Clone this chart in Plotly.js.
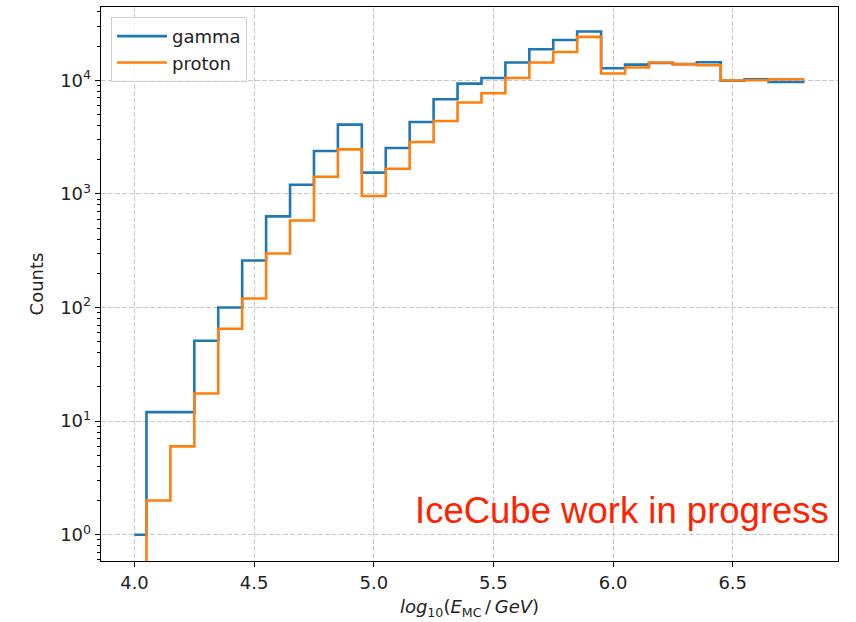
<!DOCTYPE html>
<html>
<head>
<meta charset="utf-8">
<script src="https://cdn.plot.ly/plotly-3.0.1.min.js"></script>
<style>html,body{margin:0;padding:0;background:#fff;}#chart{width:856px;height:622px;}</style>
</head>
<body>
<div id="chart"></div>
<script>
// bin centres log10(E_MC/GeV)
const energy = [4.0,4.1,4.2,4.3,4.4,4.5,4.6,4.7,4.8,4.9,5.0,5.1,5.2,5.3,5.4,5.5,5.6,5.7,5.8,5.9,6.0,6.1,6.2,6.3,6.4,6.5,6.6,6.7,6.8];
const gammaCounts = [1,12,12,51,100,259,634,1205,2383,4074,1538,2535,4293,6800,9350,10480,14320,18750,22650,26850,12760,13740,14200,13900,14400,9900,10200,9650,9650];
const protonCounts = [0,2,6,17.5,65,120,299,584,1417,2466,957,1667,2860,4378,6370,7680,10480,14320,17750,24080,11460,12940,14350,13800,13550,9950,10000,10200,10200];
const xTickVals = [4.0,4.5,5.0,5.5,6.0,6.5];
const xTickText = ['4.0','4.5','5.0','5.5','6.0','6.5'];
const yTickVals = [1,10,100,1000,10000];
const yTickText = ['10<sup>0</sup>','10<sup>1</sup>','10<sup>2</sup>','10<sup>3</sup>','10<sup>4</sup>'];

// log-scale: non-positive counts are clipped far below the axis (as matplotlib does)
const clip = v => (v > 0 ? v : 1e-3);

const minorVals = [];
for (let d = -1; d <= 4; d++) for (let m = 2; m <= 9; m++) minorVals.push(m * Math.pow(10, d));

const font = {family: 'DejaVu Sans, sans-serif', size: 18, color: '#222'};

const traces = [
  {x: energy, y: gammaCounts.map(clip), name: 'gamma', type: 'scatter', mode: 'lines',
   line: {shape: 'hvh', color: '#1f77b4', width: 2.6}},
  {x: energy, y: protonCounts.map(clip), name: 'proton', type: 'scatter', mode: 'lines',
   line: {shape: 'hvh', color: '#ff7f0e', width: 2.6}}
];

const layout = {
  width: 856, height: 622,
  margin: {l: 101, r: 18, t: 7, b: 61},
  paper_bgcolor: '#fff', plot_bgcolor: '#fff',
  font: font,
  showlegend: true,
  legend: {x: 0.0136, y: 0.982, xanchor: 'left', yanchor: 'top', bgcolor: 'rgba(255,255,255,0.8)',
           bordercolor: '#d0d0d0', borderwidth: 1, itemwidth: 50,
           font: {family: 'DejaVu Sans, sans-serif', size: 18, color: '#222'}},
  xaxis: {
    range: [3.86, 6.94], tickmode: 'array', tickvals: xTickVals, ticktext: xTickText,
    showline: true, linecolor: '#000', linewidth: 1.3, mirror: true,
    ticks: 'outside', ticklen: 5, tickcolor: '#000', zeroline: false,
    showgrid: true, gridcolor: '#c8c8c8', griddash: '5px,2px', gridwidth: 1,
    tickfont: font,
    title: {text: '<i>log</i><sub>10</sub>(<i>E</i><sub>MC</sub>\u2009/\u2009<i>GeV</i>)', font: font, standoff: 8}
  },
  yaxis: {
    type: 'log', range: [-0.231, 4.645], tickmode: 'array', tickvals: yTickVals, ticktext: yTickText,
    showline: true, linecolor: '#000', linewidth: 1.3, mirror: true,
    ticks: 'outside', ticklen: 5, tickcolor: '#000', zeroline: false,
    showgrid: true, gridcolor: '#c8c8c8', griddash: '5px,2px', gridwidth: 1,
    minor: {tickmode: 'array', tickvals: minorVals, ticks: 'outside', ticklen: 3, tickcolor: '#000', showgrid: false},
    tickfont: font,
    title: {text: 'Counts', font: font, standoff: 12}
  },
  annotations: [{
    text: 'IceCube work in progress', xref: 'paper', yref: 'paper',
    x: 0.991, y: 0.091, xanchor: 'right', yanchor: 'middle', showarrow: false,
    font: {family: 'Liberation Sans, Arial, sans-serif', size: 36.5, color: '#ff2200'}
  }]
};

Plotly.newPlot('chart', traces, layout, {displayModeBar: false, staticPlot: true});
</script>
</body>
</html>
